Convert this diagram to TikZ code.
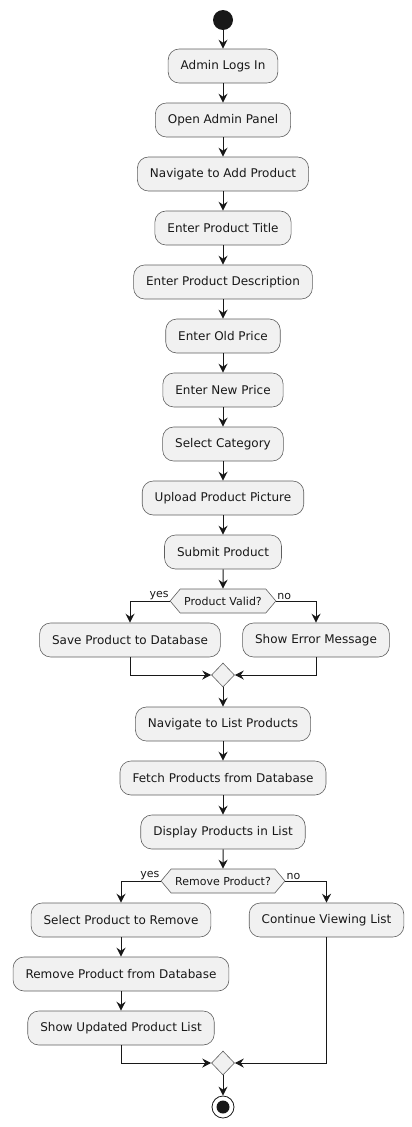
\documentclass[tikz,border=0pt]{standalone}
\usepackage{fontspec}
\setmainfont{DejaVu Sans}
\usetikzlibrary{arrows.meta,shapes.geometric,shapes.symbols}
\definecolor{boxfill}{HTML}{F1F1F1}
\definecolor{boxline}{HTML}{5F5F5F}
\definecolor{ink}{HTML}{181818}
\begin{document}
\begin{tikzpicture}[x=1pt,y=-1pt,
  act/.style={draw=boxline,fill=boxfill,line width=0.6pt,rounded corners=11pt,
    minimum height=34pt,inner xsep=12.5pt,font=\fontsize{12}{14}\selectfont,text=ink},
  dec/.style={shape=signal,signal to=east and west,signal pointer angle=100,
    draw=boxline,fill=boxfill,line width=0.6pt,minimum height=24pt,inner xsep=4pt,inner ysep=2pt,
    font=\fontsize{11}{13}\selectfont,text=ink},
  mrg/.style={shape=diamond,draw=boxline,fill=boxfill,line width=0.6pt,minimum width=23pt,minimum height=24pt,inner sep=0pt},
  flow/.style={draw=ink,line width=1pt,-{Stealth[length=9pt,width=9pt,inset=3pt]}},
  lbl/.style={font=\fontsize{11}{13}\selectfont,text=ink,inner sep=1pt}]
\useasboundingbox (0,0) rectangle (412,1127);
\node[circle,fill=ink,minimum size=20pt,inner sep=0pt] (start) at (223,20) {};
\node[act] (a1) at (223,66) {Admin Logs In};
\node[act] (a2) at (223,120) {Open Admin Panel};
\node[act] (a3) at (223,174) {Navigate to Add Product};
\node[act] (a4) at (223,228) {Enter Product Title};
\node[act] (a5) at (223,282) {Enter Product Description};
\node[act] (a6) at (223,336) {Enter Old Price};
\node[act] (a7) at (223,390) {Enter New Price};
\node[act] (a8) at (223,444) {Select Category};
\node[act] (a9) at (223,498) {Upload Product Picture};
\node[act] (a10) at (223,552) {Submit Product};
\node[dec] (d1) at (223,601) {Product Valid?};
\node[act] (save) at (130,640) {Save Product to Database};
\node[act] (err) at (316,640) {Show Error Message};
\node[mrg] (m1) at (223,675) {};
\node[act] (b1) at (223,724) {Navigate to List Products};
\node[act] (b2) at (223,778) {Fetch Products from Database};
\node[act] (b3) at (223,832) {Display Products in List};
\node[dec] (d2) at (223,881) {Remove Product?};
\node[act] (sel) at (121,920) {Select Product to Remove};
\node[act] (cont) at (326.5,920) {Continue Viewing List};
\node[act] (rem) at (121,974) {Remove Product from Database};
\node[act] (upd) at (121,1028) {Show Updated Product List};
\node[mrg] (m2) at (223,1063) {};
\node[circle,draw=ink,line width=0.8pt,fill=white,minimum size=22pt,inner sep=0pt] (stop) at (223,1107) {};
\node[circle,fill=ink,minimum size=13pt,inner sep=0pt] at (stop.center) {};
\draw[flow] (start) -- (a1);
\draw[flow] (a1) -- (a2);
\draw[flow] (a2) -- (a3);
\draw[flow] (a3) -- (a4);
\draw[flow] (a4) -- (a5);
\draw[flow] (a5) -- (a6);
\draw[flow] (a6) -- (a7);
\draw[flow] (a7) -- (a8);
\draw[flow] (a8) -- (a9);
\draw[flow] (a9) -- (a10);
\draw[flow] (a10) -- (d1);
\draw[flow] (d1.west) -| (save.north);
\draw[flow] (d1.east) -| (err.north);
\node[lbl,anchor=south east] at (d1.west) {yes};
\node[lbl,anchor=south west] at (d1.east) {no};
\draw[flow] (save.south) |- (m1.west);
\draw[flow] (err.south) |- (m1.east);
\draw[flow] (m1) -- (b1);
\draw[flow] (b1) -- (b2);
\draw[flow] (b2) -- (b3);
\draw[flow] (b3) -- (d2);
\draw[flow] (d2.west) -| (sel.north);
\draw[flow] (d2.east) -| (cont.north);
\node[lbl,anchor=south east] at (d2.west) {yes};
\node[lbl,anchor=south west] at (d2.east) {no};
\draw[flow] (sel) -- (rem);
\draw[flow] (rem) -- (upd);
\draw[flow] (upd.south) |- (m2.west);
\draw[flow] (cont.south) |- (m2.east);
\draw[flow] (m2) -- (stop);
\end{tikzpicture}
\end{document}
